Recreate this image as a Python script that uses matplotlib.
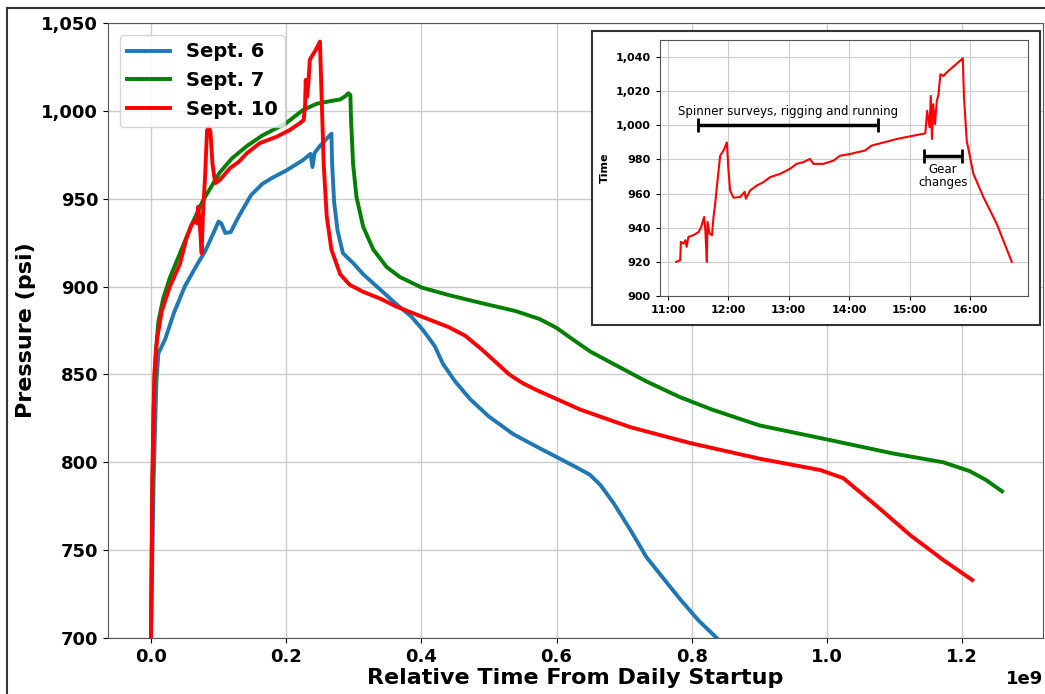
import matplotlib
matplotlib.use("Agg")
import matplotlib.pyplot as plt
from matplotlib.ticker import FuncFormatter, FixedLocator
from matplotlib.patches import Rectangle
from matplotlib.lines import Line2D

# ---- main chart data (relative time in units of 1e9, pressure in psi) ----
sept6_t = [0.0, 0.004, 0.008, 0.011, 0.021, 0.034, 0.050, 0.066, 0.080, 0.092, 0.100, 0.104,
           0.110, 0.118, 0.130, 0.148, 0.165, 0.180, 0.200, 0.225, 0.236, 0.239, 0.242, 0.250,
           0.267, 0.268, 0.271, 0.276, 0.284, 0.300, 0.314, 0.340, 0.363, 0.385, 0.403, 0.420,
           0.432, 0.450, 0.472, 0.500, 0.536, 0.570, 0.600, 0.630, 0.649, 0.665, 0.684, 0.710,
           0.733, 0.760, 0.783, 0.810, 0.837]
sept6_p = [700, 790, 845, 862, 870, 885, 900, 911, 920, 930, 937, 936,
           930.5, 931, 940, 952, 958.5, 962, 966, 972, 975.5, 968, 976, 980,
           987, 970, 948, 932, 919, 913, 907, 898, 890, 883, 875, 866,
           856, 846, 836, 826, 816, 809, 803, 797, 793, 787, 777, 761,
           746, 733, 722, 710, 700]

sept7_t = [0.0, 0.002, 0.004, 0.007, 0.011, 0.018, 0.028, 0.043, 0.060, 0.077, 0.102, 0.120,
           0.142, 0.165, 0.200, 0.225, 0.245, 0.265, 0.280, 0.288, 0.292, 0.295, 0.296, 0.299,
           0.304, 0.314, 0.329, 0.349, 0.368, 0.400, 0.442, 0.490, 0.540, 0.575, 0.600, 0.620,
           0.650, 0.684, 0.733, 0.783, 0.830, 0.900, 1.000, 1.098, 1.172, 1.211, 1.235, 1.259]
sept7_p = [700, 780, 830, 862, 880, 893, 905, 919, 935, 949, 965, 973,
           980, 986, 993, 1000.5, 1004, 1005.5, 1006.5, 1008.5, 1010, 1009, 995, 970,
           951, 934, 921, 911, 905.5, 899.5, 895, 890.5, 886, 881.5, 876.5, 871,
           863, 856, 846, 837, 830, 821, 813, 805, 800, 795, 790, 783.5]

sept10_t = [0.0, 0.002, 0.005, 0.009, 0.016, 0.028, 0.043, 0.053, 0.060, 0.066, 0.068, 0.070,
            0.072, 0.075, 0.077, 0.080, 0.083, 0.086, 0.088, 0.091, 0.095, 0.102, 0.117, 0.130,
            0.142, 0.161, 0.186, 0.205, 0.220, 0.226, 0.228, 0.229, 0.231, 0.233, 0.235, 0.238,
            0.245, 0.250, 0.2525, 0.2555, 0.260, 0.267, 0.280, 0.294, 0.314, 0.340, 0.363, 0.413,
            0.440, 0.465, 0.490, 0.510, 0.530, 0.550, 0.571, 0.635, 0.709, 0.797, 0.901, 0.990,
            1.024, 1.074, 1.123, 1.172, 1.215]
sept10_p = [700, 790, 850, 870, 886, 900, 913, 928, 935, 938, 936, 945.5,
            937, 919, 941.7, 962, 989, 990.6, 988, 970, 958.8, 960.7, 967.4, 971,
            975.9, 981.6, 985.3, 989, 992.9, 994.8, 1003, 1017.6, 1008, 1016, 1029, 1031,
            1035.5, 1039.4, 1008, 970, 940, 921, 907, 901, 897, 893, 888.6, 881,
            877, 872, 864, 857, 850, 845, 841, 830, 820, 811, 802, 795.6,
            791, 775, 758.6, 744.4, 733]

# ---- inset data (Sept. 10, clock time in hours) ----
ins_t = [11.138, 11.204, 11.215, 11.26, 11.29, 11.31, 11.34, 11.42, 11.51, 11.55, 11.60, 11.62,
         11.645, 11.656, 11.69, 11.73, 11.755, 11.78, 11.81, 11.865, 11.92, 11.976, 12.003, 12.03,
         12.086, 12.196, 12.27, 12.29, 12.36, 12.47, 12.58, 12.69, 12.86, 13.02, 13.13, 13.24,
         13.35, 13.41, 13.57, 13.74, 13.85, 14.02, 14.13, 14.26, 14.37, 14.51, 14.79, 15.06,
         15.26, 15.29, 15.33, 15.35, 15.37, 15.39, 15.42, 15.45, 15.48, 15.49, 15.51, 15.56,
         15.61, 15.86, 15.88, 15.90, 15.945, 16.055, 16.22, 16.44, 16.69]
ins_p = [920, 921, 931.7, 930.7, 932.7, 928.8, 934.6, 935.6, 937.5, 940.4, 946.3, 938.5,
         920, 943.4, 936.5, 935.6, 946.3, 953, 963.8, 982.2, 985.2, 990, 973.5, 961.8,
         957.6, 958, 961, 957, 961.8, 964.7, 966.7, 969.6, 971.6, 974.5, 977.4, 978.4,
         980.3, 977.4, 977.4, 979.3, 982.2, 983.2, 984.2, 985.2, 988.1, 989.4, 992, 993.9,
         995.3, 1008.5, 998.8, 1017.2, 992, 1012.4, 1000.7, 1014.3, 1018.2, 1023, 1029.9, 1028.9,
         1030.9, 1038.6, 1039.2, 1016.3, 991, 971.6, 958, 942.4, 920]
ins_ticks = [11, 12, 13, 14, 15, 16]
ins_tick_labels = ["11:00", "12:00", "13:00", "14:00", "15:00", "16:00"]

spinner_span = (11.5, 14.48, 1000)
gear_span = (15.245, 15.86, 982)

fig = plt.figure(figsize=(10.45, 6.94), dpi=100)

# outer frame of the picture
fig.add_artist(Line2D([0.0067, 0.0067], [0, 0.9885], transform=fig.transFigure, color="#333333", lw=1.5))
fig.add_artist(Line2D([0.0067, 1.0], [0.9885, 0.9885], transform=fig.transFigure, color="#333333", lw=1.5))

ax = fig.add_axes([0.1033, 0.0807, 0.8947, 0.8862])
ax.plot([t * 1e9 for t in sept6_t], sept6_p, color="#1f77b4", lw=2.8, label="Sept. 6")
ax.plot([t * 1e9 for t in sept7_t], sept7_p, color="green", lw=2.8, label="Sept. 7")
ax.plot([t * 1e9 for t in sept10_t], sept10_p, color="red", lw=2.8, label="Sept. 10")

ax.set_xlim(-0.0636e9, 1.3195e9)
ax.set_ylim(700, 1050)
ax.grid(True, color="#cccccc", lw=1)
ax.yaxis.set_major_formatter(FuncFormatter(lambda v, p: f"{v:,.0f}"))
ax.tick_params(labelsize=13)
for lab in ax.get_xticklabels() + ax.get_yticklabels():
    lab.set_fontweight("bold")
ax.xaxis.get_offset_text().set_fontsize(13)
ax.xaxis.get_offset_text().set_fontweight("bold")
ax.set_xlabel("Relative Time From Daily Startup", fontsize=16, fontweight="bold", labelpad=2)
ax.set_ylabel("Pressure (psi)", fontsize=16, fontweight="bold")
for s in ax.spines.values():
    s.set_color("#555555")
ax.legend(loc="upper left", prop={"weight": "bold", "size": 14}, handlelength=2.2,
          borderaxespad=0.6)

# inset box and axes
fig.add_artist(Rectangle((0.5665, 0.5317), 0.4287, 0.4236, transform=fig.transFigure,
                         facecolor="white", edgecolor="#333333", lw=1.5, zorder=3))
ins = fig.add_axes([0.6316, 0.5735, 0.3522, 0.3689], zorder=4)
ins.plot(ins_t, ins_p, color="red", lw=1.5)
ins.set_xlim(10.87, 16.96)
ins.set_ylim(900, 1050)
ins.xaxis.set_major_locator(FixedLocator(ins_ticks))
ins.set_xticklabels(ins_tick_labels)
ins.set_yticks(range(900, 1041, 20))
ins.yaxis.set_major_formatter(FuncFormatter(lambda v, p: f"{v:,.0f}"))
ins.tick_params(labelsize=8, length=3)
for lab in ins.get_xticklabels() + ins.get_yticklabels():
    lab.set_fontweight("bold")
ins.set_ylabel("Time", fontsize=8, fontweight="bold")
ins.grid(True, color="#cccccc", lw=0.8)
for s in ins.spines.values():
    s.set_color("#555555")

ins.errorbar((spinner_span[0] + spinner_span[1]) / 2, spinner_span[2],
             xerr=(spinner_span[1] - spinner_span[0]) / 2, fmt="none", ecolor="black",
             elinewidth=2.5, capsize=5, capthick=2)
ins.text((spinner_span[0] + spinner_span[1]) / 2, spinner_span[2] + 4,
         "Spinner surveys, rigging and running", ha="center", va="bottom", fontsize=8.5)
ins.errorbar((gear_span[0] + gear_span[1]) / 2, gear_span[2],
             xerr=(gear_span[1] - gear_span[0]) / 2, fmt="none", ecolor="black",
             elinewidth=2.5, capsize=5, capthick=2)
ins.text((gear_span[0] + gear_span[1]) / 2, gear_span[2] - 4, "Gear\nchanges",
         ha="center", va="top", fontsize=8.5, linespacing=1.0)

fig.savefig("out.png", dpi=100)
